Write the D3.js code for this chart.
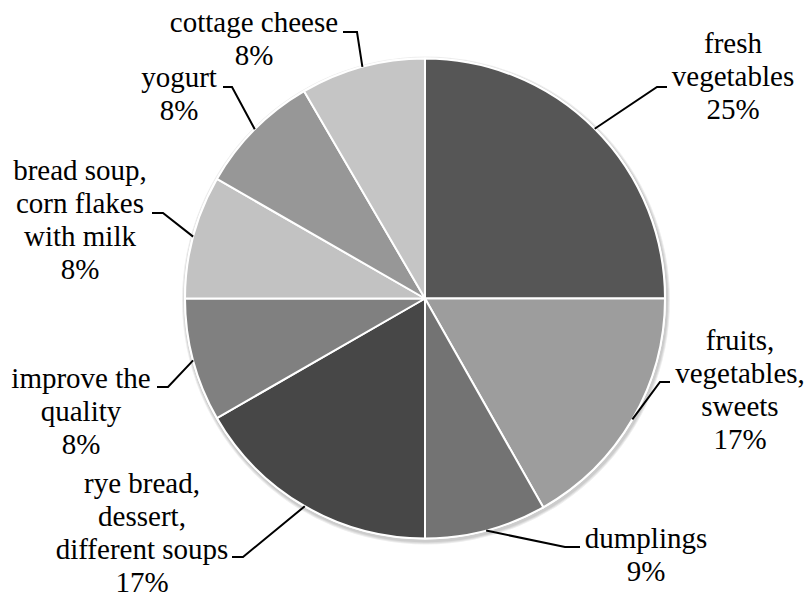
<!DOCTYPE html>
<html>
<head>
    <script src="https://d3js.org/d3.v7.min.js"></script>
</head>
<body style="margin:0">
    <svg id="pie" width="806" height="594" style="font-family: 'Liberation Serif'"></svg>

    <script>
        // slices, clockwise from 12 o'clock
        var categories = ["fresh vegetables", "fruits, vegetables, sweets", "dumplings",
                          "rye bread, dessert, different soups", "improve the quality",
                          "bread soup, corn flakes with milk", "yogurt", "cottage cheese"];
        var values = [25, 16.8, 8.2, 16.7, 8.3, 8.3, 8.3, 8.4];
        var percentLabels = ["25%", "17%", "9%", "17%", "8%", "8%", "8%", "8%"];
        var labelLines = [
            ["fresh", "vegetables"],
            ["fruits,", "vegetables,", "sweets"],
            ["dumplings"],
            ["rye bread,", "dessert,", "different soups"],
            ["improve the", "quality"],
            ["bread soup,", "corn flakes", "with milk"],
            ["yogurt"],
            ["cottage cheese"]
        ];

        // styling / layout
        var colors = ["#565656", "#9d9d9d", "#737373", "#474747", "#808080", "#c2c2c2", "#979797", "#c5c5c5"];
        var cx = 425, cy = 298.5, radius = 240, lineH = 33;
        // text block: centre x, first baseline; leader: bend point and end point
        var labelLayout = [
            {x: 733, y: 53,  bend: [657, 87],  end: [667, 87]},
            {x: 740, y: 350, bend: [660, 382], end: [670, 382]},
            {x: 646, y: 548, bend: [565, 547], end: [580, 547]},
            {x: 142, y: 493, bend: [243, 557], end: [232, 557]},
            {x: 81,  y: 388, bend: [168, 387], end: [157, 387]},
            {x: 80,  y: 180, bend: [163, 213], end: [152, 213]},
            {x: 179, y: 87,  bend: [232, 87],  end: [223, 87]},
            {x: 254, y: 32,  bend: [357, 32],  end: [343, 32]}
        ];

        var svg = d3.select("#pie");

        var pie = d3.pie().sort(null).value(function(d) { return d; });
        var arcs = pie(values);
        var arc = d3.arc().innerRadius(0).outerRadius(radius);

        var g = svg.append("g").attr("transform", "translate(" + cx + "," + cy + ")");

        // soft shadow under the pie
        [4, 3, 2].forEach(function(k) {
            g.append("circle")
                .attr("cx", 1).attr("cy", 2)
                .attr("r", radius + k)
                .attr("fill", "#000")
                .attr("opacity", 0.07);
        });
        g.append("circle").attr("r", radius + 1).attr("fill", "#fff");

        g.selectAll("path")
            .data(arcs)
            .enter().append("path")
            .attr("d", arc)
            .attr("fill", function(d, i) { return colors[i]; })
            .attr("stroke", "#fff")
            .attr("stroke-width", 2)
            .attr("stroke-linejoin", "round");

        // leader lines
        svg.selectAll("polyline")
            .data(arcs)
            .enter().append("polyline")
            .attr("fill", "none")
            .attr("stroke", "#000")
            .attr("stroke-width", 2)
            .attr("points", function(d, i) {
                var a = (d.startAngle + d.endAngle) / 2;
                var sx = cx + radius * Math.sin(a), sy = cy - radius * Math.cos(a);
                var L = labelLayout[i];
                return [[sx, sy], L.bend, L.end].map(function(p) { return p.join(","); }).join(" ");
            });

        // labels: one text element per line
        var lineRows = [];
        categories.forEach(function(c, i) {
            labelLines[i].concat([percentLabels[i]]).forEach(function(s, j) {
                lineRows.push({text: s, x: labelLayout[i].x, y: labelLayout[i].y + j * lineH});
            });
        });

        svg.selectAll("text")
            .data(lineRows)
            .enter().append("text")
            .attr("x", function(d) { return d.x; })
            .attr("y", function(d) { return d.y; })
            .attr("text-anchor", "middle")
            .attr("font-size", 29)
            .attr("font-family", "Liberation Serif")
            .style("font-family", "'Liberation Serif', serif")
            .text(function(d) { return d.text; });
    </script>
</body>
</html>
